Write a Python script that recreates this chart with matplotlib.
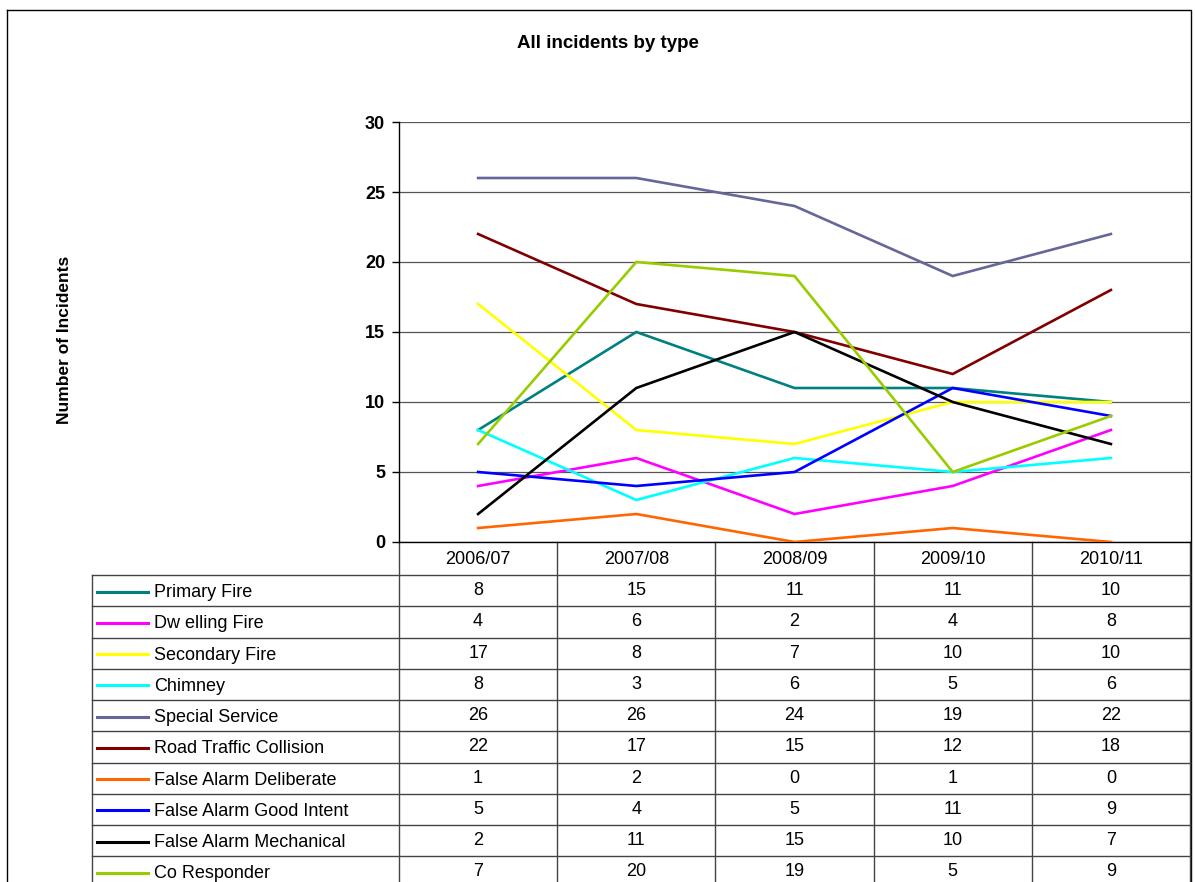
import numpy as np
import matplotlib
matplotlib.use("Agg")
import matplotlib.pyplot as plt

# Data
YEARS = ["2006/07", "2007/08", "2008/09", "2009/10", "2010/11"]
SERIES_NAMES = ["Primary Fire", "Dw elling Fire", "Secondary Fire", "Chimney",
                "Special Service", "Road Traffic Collision", "False Alarm Deliberate",
                "False Alarm Good Intent", "False Alarm Mechanical", "Co Responder"]
primary_fire = [8, 15, 11, 11, 10]
dwelling_fire = [4, 6, 2, 4, 8]
secondary_fire = [17, 8, 7, 10, 10]
chimney = [8, 3, 6, 5, 6]
special_service = [26, 26, 24, 19, 22]
road_traffic = [22, 17, 15, 12, 18]
fa_deliberate = [1, 2, 0, 1, 0]
fa_good_intent = [5, 4, 5, 11, 9]
fa_mechanical = [2, 11, 15, 10, 7]
co_responder = [7, 20, 19, 5, 9]

SERIES = [primary_fire, dwelling_fire, secondary_fire, chimney, special_service,
          road_traffic, fa_deliberate, fa_good_intent, fa_mechanical, co_responder]
COLORS = ["#008080", "#FF00FF", "#FFFF00", "#00FFFF", "#666699",
          "#800000", "#FF6600", "#0000FF", "#000000", "#99CC00"]

W, H = 1195, 882
FONT = "Liberation Sans"

# Layout in pixels
PLOT_L, PLOT_R, PLOT_T, PLOT_B = 399, 1190, 122, 542
TABLE_L = 92
HEADER_B = 575
ROW_H = 31.25

fig = plt.figure(figsize=(W / 100, H / 100), dpi=100)
fig.patch.set_facecolor("white")

# overlay for border, title, table (pixel coordinates)
over = fig.add_axes([0, 0, 1, 1])
over.set_xlim(0, W)
over.set_ylim(H, 0)
over.axis("off")

ax = fig.add_axes([PLOT_L / W, (H - PLOT_B) / H, (PLOT_R - PLOT_L) / W, (PLOT_B - PLOT_T) / H])
x = np.arange(len(YEARS)) + 0.5
for vals, col in zip(SERIES, COLORS):
    ax.plot(x, vals, color=col, lw=1.9, solid_joinstyle="miter", zorder=3)
ax.set_xlim(0, len(YEARS))
ax.set_ylim(0, 30)
ax.set_yticks(np.arange(0, 31, 5))
ax.yaxis.grid(True, color="#555555", lw=0.9)
ax.set_axisbelow(True)
ax.set_xticks([])
for s in ["top", "right"]:
    ax.spines[s].set_visible(False)
ax.spines["left"].set_linewidth(1.0)
ax.spines["bottom"].set_linewidth(1.0)
ax.tick_params(axis="y", direction="out", length=5, width=1, pad=5)
for lbl in ax.get_yticklabels():
    lbl.set_fontfamily(FONT)
    lbl.set_fontweight("bold")
    lbl.set_fontsize(13)
ax.set_facecolor("none")

# outer border
over.plot([7, 1191, 1191, 7, 7], [10, 10, 900, 900, 10], color="black", lw=1.0)

over.text(608, 43, "All incidents by type", ha="center", va="center",
          fontfamily=FONT, fontweight="bold", fontsize=13.5)
over.text(65, 340, "Number of Incidents", ha="center", va="center", rotation=90,
          fontfamily=FONT, fontweight="bold", fontsize=12.5)

# table
col_w = (PLOT_R - PLOT_L) / len(YEARS)
n_rows = len(SERIES_NAMES)
bottom = HEADER_B + ROW_H * n_rows + 10
for i in range(len(YEARS) + 1):
    xx = PLOT_L + i * col_w
    over.plot([xx, xx], [PLOT_B, bottom], color="#444444", lw=1.0)
over.plot([TABLE_L, TABLE_L], [HEADER_B, bottom], color="#444444", lw=1.0)
over.plot([TABLE_L, PLOT_R], [HEADER_B, HEADER_B], color="#444444", lw=1.0)
for r in range(1, n_rows):
    yy = HEADER_B + r * ROW_H
    over.plot([TABLE_L, PLOT_R], [yy, yy], color="#444444", lw=1.0)

for i, yr in enumerate(YEARS):
    over.text(PLOT_L + (i + 0.5) * col_w, (PLOT_B + HEADER_B) / 2 + 1, yr,
              ha="center", va="center", fontfamily=FONT, fontsize=13)

for r, (name, vals, col) in enumerate(zip(SERIES_NAMES, SERIES, COLORS)):
    yc = HEADER_B + (r + 0.5) * ROW_H + 1
    over.plot([97, 148], [yc, yc], color=col, lw=2.2)
    over.text(154, yc + 1, name, ha="left", va="center", fontfamily=FONT, fontsize=13)
    for i, v in enumerate(vals):
        over.text(PLOT_L + (i + 0.5) * col_w, yc - 1, str(v), ha="center", va="center",
                  fontfamily=FONT, fontsize=13)

fig.savefig("out.png", dpi=100, facecolor="white")
